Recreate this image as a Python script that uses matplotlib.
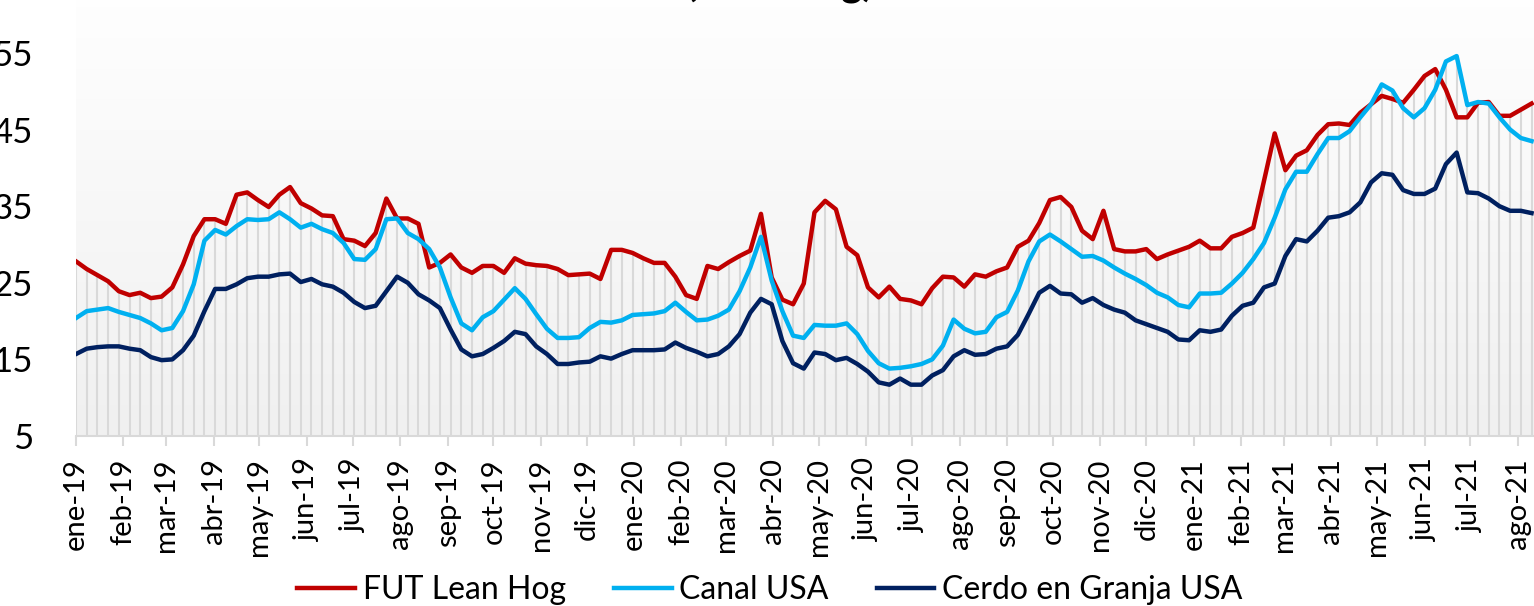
import numpy as np
import pandas as pd
import matplotlib
matplotlib.use("Agg")
import matplotlib.pyplot as plt
import matplotlib.dates as mdates
from matplotlib.colors import LinearSegmentedColormap

plt.rcParams['font.family'] = ['Lato', 'DejaVu Sans']

# precios semanales, ene-19 a ago-21
fut_lean_hog = [
    27.8, 26.8, 26.0, 25.2, 23.9, 23.4, 23.7, 23.0, 23.2, 24.4,
    27.4, 31.1, 33.3, 33.3, 32.7, 36.5, 36.8, 35.8, 34.9, 36.5,
    37.5, 35.4, 34.7, 33.8, 33.7, 30.7, 30.5, 29.8, 31.5, 36.0,
    33.4, 33.4, 32.7, 27.0, 27.6, 28.7, 27.0, 26.3, 27.2, 27.2,
    26.3, 28.2, 27.5, 27.3, 27.2, 26.8, 26.0, 26.1, 26.2, 25.5,
    29.3, 29.3, 28.9, 28.2, 27.6, 27.6, 25.8, 23.4, 22.9, 27.2,
    26.8, 27.7, 28.5, 29.2, 34.0, 25.7, 22.8, 22.2, 24.9, 34.2,
    35.7, 34.6, 29.7, 28.6, 24.4, 23.1, 24.5, 22.9, 22.7, 22.2,
    24.3, 25.8, 25.7, 24.5, 26.1, 25.8, 26.5, 27.0, 29.7, 30.5,
    32.8, 35.8, 36.2, 34.9, 31.8, 30.7, 34.4, 29.4, 29.1, 29.1,
    29.4, 28.1, 28.7, 29.2, 29.7, 30.5, 29.5, 29.5, 31.0, 31.5,
    32.2, 38.3, 44.5, 39.7, 41.6, 42.3, 44.3, 45.7, 45.8, 45.6,
    47.2, 48.3, 49.4, 49.0, 48.5, 50.2, 52.0, 52.9, 50.2, 46.6,
    46.6, 48.5, 48.6, 46.8, 46.8, 47.6, 48.4]

canal_usa = [
    20.4, 21.3, 21.5, 21.7, 21.2, 20.8, 20.4, 19.7, 18.8, 19.1,
    21.3, 24.8, 30.5, 31.9, 31.3, 32.4, 33.3, 33.2, 33.3, 34.2,
    33.3, 32.2, 32.7, 32.0, 31.5, 30.2, 28.1, 28.0, 29.4, 33.3,
    33.4, 31.5, 30.7, 29.4, 27.0, 23.1, 19.7, 18.8, 20.5, 21.3,
    22.8, 24.3, 22.9, 20.9, 19.0, 17.8, 17.8, 17.9, 19.1, 19.9,
    19.8, 20.1, 20.8, 20.9, 21.0, 21.3, 22.4, 21.2, 20.1, 20.2,
    20.7, 21.5, 23.9, 27.0, 31.0, 25.3, 21.3, 18.1, 17.8, 19.5,
    19.4, 19.4, 19.7, 18.3, 16.1, 14.5, 13.8, 13.9, 14.1, 14.4,
    15.0, 16.8, 20.2, 19.0, 18.4, 18.6, 20.5, 21.2, 24.0, 27.8,
    30.4, 31.3, 30.4, 29.4, 28.4, 28.5, 27.9, 27.0, 26.2, 25.5,
    24.7, 23.7, 23.1, 22.1, 21.8, 23.6, 23.6, 23.7, 24.9, 26.3,
    28.1, 30.2, 33.5, 37.2, 39.5, 39.5, 41.8, 43.9, 43.9, 44.8,
    46.6, 48.3, 50.9, 50.1, 47.8, 46.6, 47.8, 50.2, 53.9, 54.6,
    48.2, 48.6, 48.4, 46.6, 45.0, 43.9, 43.5]

cerdo_granja_usa = [
    15.7, 16.4, 16.6, 16.7, 16.7, 16.4, 16.2, 15.3, 14.9, 15.0,
    16.2, 18.1, 21.3, 24.2, 24.2, 24.8, 25.6, 25.8, 25.8, 26.1,
    26.2, 25.1, 25.5, 24.8, 24.5, 23.7, 22.5, 21.7, 22.0, 23.9,
    25.8, 25.0, 23.5, 22.7, 21.7, 18.9, 16.3, 15.4, 15.7, 16.5,
    17.4, 18.6, 18.3, 16.7, 15.7, 14.4, 14.4, 14.6, 14.7, 15.4,
    15.1, 15.7, 16.2, 16.2, 16.2, 16.3, 17.2, 16.5, 16.0, 15.4,
    15.7, 16.7, 18.3, 21.1, 22.9, 22.2, 17.4, 14.5, 13.8, 15.9,
    15.7, 14.9, 15.2, 14.4, 13.4, 12.0, 11.7, 12.5, 11.7, 11.7,
    12.9, 13.6, 15.4, 16.2, 15.6, 15.7, 16.4, 16.7, 18.2, 20.9,
    23.7, 24.6, 23.6, 23.5, 22.4, 23.0, 22.1, 21.5, 21.1, 20.1,
    19.6, 19.1, 18.6, 17.6, 17.5, 18.8, 18.6, 18.9, 20.7, 22.0,
    22.4, 24.4, 24.9, 28.5, 30.7, 30.4, 31.8, 33.5, 33.7, 34.2,
    35.5, 38.1, 39.3, 39.1, 37.1, 36.6, 36.6, 37.3, 40.5, 42.0,
    36.8, 36.7, 36.0, 35.0, 34.4, 34.4, 34.1]

meses = ['ene', 'feb', 'mar', 'abr', 'may', 'jun',
         'jul', 'ago', 'sep', 'oct', 'nov', 'dic']
y_ticks = [5, 15, 25, 35, 45, 55]

fechas = pd.date_range('2019-01-01', periods=len(fut_lean_hog), freq='7D')
inicio_mes = pd.date_range('2019-01-01', '2021-08-01', freq='MS')
etiquetas = [f"{meses[d.month - 1]}-{d.year % 100:02d}" for d in inicio_mes]

W, H = 1534, 606
fig = plt.figure(figsize=(W / 100, H / 100), dpi=100)
ax = fig.add_axes([76 / W, 170 / H, 1458 / W, 459.6 / H])

x0 = mdates.date2num(pd.Timestamp('2019-01-01'))
x1 = x0 + 953.6

# fondo degradado del area de trazado
grad = np.linspace(1, 0, 256).reshape(-1, 1)
cmap = LinearSegmentedColormap.from_list('fondo', ['#f0f0f0', '#ffffff'])
ax.imshow(grad, extent=[x0, x1, 5, 65], aspect='auto', cmap=cmap,
          vmin=0, vmax=1, zorder=0, interpolation='bilinear')

# lineas de caida grises
tope = np.maximum.reduce([fut_lean_hog, canal_usa, cerdo_granja_usa])
ax.vlines(fechas, 5, tope, colors='#d9d9d9', linewidth=1.5, zorder=1)

ax.plot(fechas, fut_lean_hog, color='#C00000', lw=3.2, label='FUT Lean Hog', zorder=3)
ax.plot(fechas, canal_usa, color='#00B0F0', lw=3.2, label='Canal USA', zorder=4)
ax.plot(fechas, cerdo_granja_usa, color='#002060', lw=3.2,
        label='Cerdo en Granja USA', zorder=5)

ax.set_xlim(x0, x1)
ax.set_ylim(5, 65)

ax.set_xticks(mdates.date2num(inicio_mes))
ax.set_xticklabels(etiquetas, rotation=90, fontsize=21)
ax.tick_params(axis='x', length=7, color='#d9d9d9', width=1.5, pad=9)
ax.set_yticks(y_ticks)
ax.set_yticklabels([str(v) for v in y_ticks], fontsize=25)
ax.tick_params(axis='y', length=0, pad=31)

for s in ['top', 'right', 'left']:
    ax.spines[s].set_visible(False)
ax.spines['bottom'].set_color('#d9d9d9')
ax.spines['bottom'].set_linewidth(1.5)

fig.legend(loc='center', bbox_to_anchor=(0.502, 16 / H), ncol=3, frameon=False,
           fontsize=23, handlelength=1.8, handletextpad=0.25, columnspacing=1.5)

# titulo cortado por el borde superior, como en la imagen original
fig.text(0.508, 1.005, '(Pesos/kg)', ha='center', va='baseline',
         fontsize=29, fontweight='bold')

fig.savefig('out.png', dpi=100)
